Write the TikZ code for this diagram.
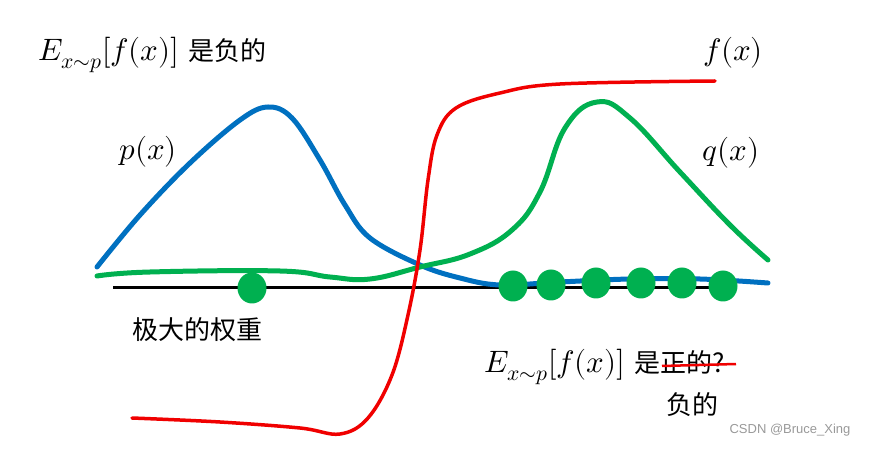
\documentclass[tikz,border=0pt]{standalone}
\usepackage{fontspec}
\usepackage{unicode-math}
\newfontfamily\cjk{Noto Sans CJK SC}
\setsansfont{Liberation Sans}
\usepackage{tikz}
\usetikzlibrary{shapes.geometric}

\definecolor{pblue}{RGB}{0,112,192}
\definecolor{qgreen}{RGB}{0,176,80}
\definecolor{fred}{RGB}{240,0,0}

\begin{document}
\begin{tikzpicture}[x=1pt, y=-1pt,
    curve/.style={line width=5pt, line cap=round, line join=round},
    sample/.style={ellipse, fill=qgreen, minimum width=29pt, minimum height=31pt, inner sep=0pt},
    label/.style={font=\fontsize{31}{35}\selectfont, inner sep=0pt},
    note/.style={font=\fontsize{26}{30}\selectfont\cjk, inner sep=0pt}]
    \useasboundingbox (0,0) rectangle (871,449);

    % Achse
    \draw[line width=3pt] (113,288) -- (735,288);

    % p(x)
    \draw[curve, pblue] plot[smooth, tension=0.6] coordinates {(97,267) (140,215) (190,163) (240,120) (268,107) (292,118) (320,160) (345,205) (370,238) (420,265) (460,278) (500,285) (560,282) (630,279) (700,279) (768,283)};

    % q(x)
    \draw[curve, qgreen] plot[smooth, tension=0.7] coordinates {(97,276) (150,272) (280,271) (330,277) (370,279) (420,267) (470,254) (512,230) (540,192) (565,128) (597,102) (630,118) (680,172) (730,225) (768,260)};

    % f(x)
    \draw[curve, fred, line width=3.5pt] plot[smooth, tension=0.6] coordinates {(132,418) (220,422) (300,428) (340,434) (368,418) (392,375) (408,315) (420,250) (428,180) (437,135) (456,108) (500,93) (560,84) (715,81)};

    % Stichproben
    \foreach \n/\x/\y in {a/252/288, b/513/286, c/551/285, d/596/283, e/641/283, f/682/283, g/723/286}
        \node[sample] (s\n) at (\x,\y) {};

    % Beschriftungen
    \node[label] (px) at (148,152) {$p(x)$};
    \node[label] (qx) at (731,153) {$q(x)$};
    \node[label] (fx) at (733,53) {$f(x)$};
    \node[label, anchor=west] (top) at (38,55) {$E_{x\sim p}[f(x)]$ {\cjk\fontsize{26}{30}\selectfont 是负的}};
    \node[note] (weight) at (197,330) {极大的权重};
    \node[label, anchor=west] (bottom) at (484,367) {$E_{x\sim p}[f(x)]$ {\cjk\fontsize{26}{30}\selectfont 是正的?}};
    \draw[fred, line width=2.5pt] (662,366) -- (736,364);
    \node[note] (neg) at (692,405) {负的};
    \node[font=\fontsize{13}{15}\selectfont\sffamily, text=gray!80, inner sep=0pt] (mark) at (790,430) {CSDN @Bruce\_Xing};
\end{tikzpicture}
\end{document}
